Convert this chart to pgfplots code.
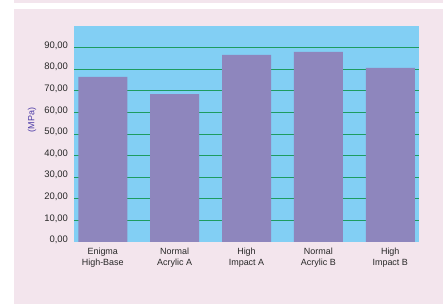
\documentclass[border=0pt]{standalone}
\usepackage{fontspec}
\setmainfont{Liberation Sans}
\usepackage{pgfplots}
\pgfplotsset{compat=1.18}
\definecolor{pinkbg}{RGB}{243,229,237}
\definecolor{bluebg}{RGB}{130,207,244}
\definecolor{barcol}{RGB}{142,134,189}
\definecolor{gridcol}{RGB}{30,156,96}
\definecolor{labcol}{RGB}{75,58,166}
\definecolor{txtcol}{RGB}{40,40,40}
\begin{document}
\begin{tikzpicture}
\useasboundingbox (0,0) rectangle (443bp,304bp);
\fill[pinkbg] (14bp,0) rectangle (443bp,295bp);
\fill[pinkbg] (14bp,300.7bp) rectangle (443bp,304bp);
\begin{axis}[
  at={(74bp,62bp)}, anchor=south west,
  scale only axis, width=345bp, height=216bp,
  xmin=-0.4, xmax=4.4, ymin=0, ymax=100,
  axis line style={draw=none},
  major tick length=0pt,
  axis background/.style={fill=bluebg},
  xtick={0,1,2,3,4},
  xticklabels={{Enigma\\High-Base},{Normal\\Acrylic A},{High\\Impact A},{Normal\\Acrylic B},{High\\Impact B}},
  xticklabel style={align=center, font=\fontsize{9}{11}\selectfont, text=txtcol, yshift=-2.5bp},
  ytick={10,20,...,90},
  extra y ticks={0},
  extra y tick style={grid=none},
  ymajorgrids,
  grid style={gridcol, line width=1pt},
  /pgf/number format/.cd, fixed, fixed zerofill, precision=2, use comma, assume math mode=true,
  /pgfplots/.cd,
  yticklabel style={font=\fontsize{9.5}{11}\selectfont, text=txtcol, xshift=-2.5bp, yshift=2bp},
  ylabel={(MPa)},
  ylabel style={at={(axis description cs:-0.1217,0.565)}, rotate=0, anchor=center, font=\fontsize{9}{11}\selectfont, text=labcol},
]
\addplot[ybar, bar width=49bp, fill=barcol, draw=none] coordinates {(0,76.4) (1,68.5) (2,86.6) (3,88.0) (4,80.6)};
\end{axis}
\end{tikzpicture}
\end{document}
